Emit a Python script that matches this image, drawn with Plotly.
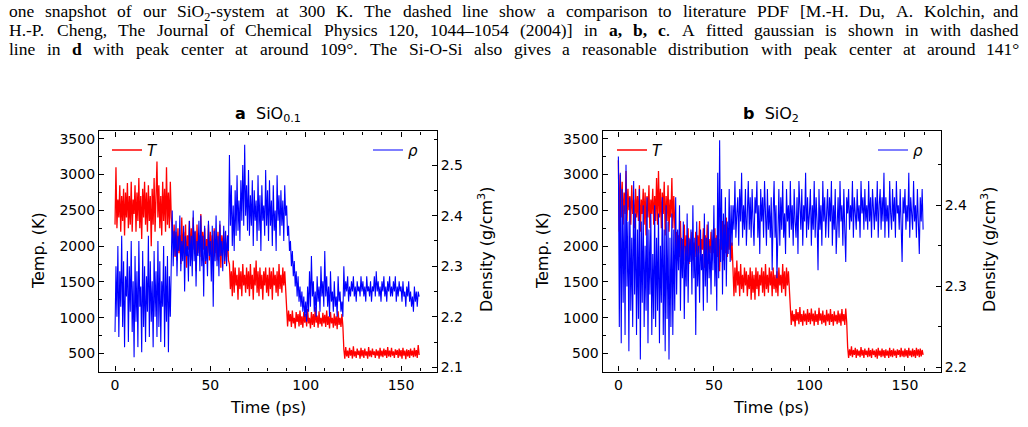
import re
import plotly.graph_objects as go

# ---------------- data ----------------
TIME_STEP_PS = 0.5

# Panel a (SiO0.1): temperature in K, 0.5 ps spacing, 20 values per 10 ps
temp_a = [
    2300, 3100, 2250, 2650, 2400, 2850, 2200, 2700, 2350, 2800, 2150, 2750, 2400, 2880, 2250, 2700, 2300, 2900, 2200, 2650,
    2450, 2850, 2200, 2750, 2350, 2950, 2250, 2700, 2100, 2800, 2400, 2900, 2300, 2750, 2200, 2850, 2350, 2700, 2000, 2800,
    2300, 2950, 2200, 2750, 3180, 2400, 2850, 2250, 2700, 2150, 2900, 2350, 2800, 2200, 3100, 2300, 2750, 2250, 2900, 2400,
    2200, 2050, 2300, 1850, 2200, 1800, 2250, 1900, 2150, 1750, 2400, 1900, 2200, 1850, 2300, 1700, 2150, 1950, 2350, 1850,
    2250, 1800, 2400, 1950, 2200, 1650, 2300, 1900, 2150, 1850, 2450, 1800, 2200, 1950, 2250, 1750, 2100, 1900, 2300, 1800,
    2200, 1850, 2150, 1750, 2250, 1900, 2100, 1800, 2200, 1850, 2300, 1700, 2150, 1950, 2200, 1750, 2050, 1850, 2150, 1800,
    1750, 1400, 1650, 1300, 1800, 1350, 1700, 1450, 1600, 1250, 1700, 1400, 1650, 1300, 1750, 1450, 1600, 1350, 1700, 1400,
    1650, 1300, 1750, 1400, 1600, 1250, 1700, 1450, 1800, 1350, 1650, 1300, 1700, 1400, 1600, 1250, 1650, 1450, 1700, 1350,
    1600, 1300, 1700, 1400, 1650, 1250, 1700, 1450, 1600, 1350, 1650, 1300, 1750, 1400, 1600, 1350, 1700, 1450, 1650, 1400,
    1150, 880, 1100, 950, 1050, 870, 1100, 920, 1000, 850, 1080, 940, 1050, 880, 1100, 900, 1020, 860, 1080, 930,
    1050, 880, 1120, 920, 1000, 850, 1080, 900, 1050, 870, 1150, 930, 1030, 860, 1090, 910, 1000, 880, 1070, 920,
    1040, 870, 1100, 900, 1020, 850, 1080, 920, 1000, 860, 1060, 890, 1020, 840, 1090, 900, 1000, 870, 1050, 880,
    560, 430, 590, 460, 540, 440, 580, 470, 550, 430, 600, 460, 530, 440, 570, 480, 540, 430, 580, 460,
    550, 440, 570, 470, 530, 430, 590, 460, 540, 450, 570, 480, 530, 440, 560, 470, 540, 430, 580, 460,
    540, 450, 570, 470, 550, 440, 590, 460, 540, 450, 580, 470, 530, 440, 560, 480, 550, 440, 570, 460,
    550, 430, 580, 470, 540, 420, 560, 460, 550, 440, 570, 470, 540, 450, 580, 460, 550, 440, 620, 480,
]

# Panel a: density in g/cm^3
dens_a = [
    2.17, 2.30, 2.20, 2.34, 2.16, 2.29, 2.22, 2.36, 2.18, 2.31, 2.14, 2.28, 2.24, 2.33, 2.15, 2.30, 2.21, 2.35, 2.17, 2.27,
    2.12, 2.32, 2.19, 2.29, 2.14, 2.35, 2.22, 2.26, 2.13, 2.33, 2.18, 2.30, 2.15, 2.28, 2.21, 2.36, 2.16, 2.31, 2.19, 2.27,
    2.14, 2.33, 2.20, 2.29, 2.16, 2.35, 2.18, 2.31, 2.15, 2.27, 2.22, 2.34, 2.14, 2.30, 2.19, 2.32, 2.13, 2.28, 2.20, 2.33,
    2.41, 2.30, 2.37, 2.32, 2.39, 2.28, 2.36, 2.33, 2.40, 2.29, 2.35, 2.31, 2.38, 2.25, 2.36, 2.32, 2.34, 2.27, 2.39, 2.30,
    2.36, 2.28, 2.41, 2.31, 2.37, 2.26, 2.35, 2.32, 2.39, 2.29, 2.40, 2.30, 2.36, 2.24, 2.38, 2.31, 2.34, 2.28, 2.39, 2.32,
    2.35, 2.27, 2.38, 2.22, 2.37, 2.31, 2.40, 2.30, 2.36, 2.28, 2.39, 2.32, 2.35, 2.29, 2.38, 2.31, 2.37, 2.30, 2.36, 2.33,
    2.52, 2.38, 2.46, 2.34, 2.42, 2.33, 2.45, 2.36, 2.48, 2.37, 2.43, 2.35, 2.47, 2.39, 2.50, 2.38, 2.54, 2.40, 2.46, 2.37,
    2.49, 2.36, 2.44, 2.38, 2.47, 2.34, 2.45, 2.39, 2.43, 2.35, 2.48, 2.37, 2.44, 2.33, 2.46, 2.39, 2.42, 2.36, 2.49, 2.38,
    2.45, 2.35, 2.47, 2.38, 2.43, 2.34, 2.46, 2.37, 2.41, 2.33, 2.48, 2.39, 2.44, 2.36, 2.45, 2.38, 2.43, 2.35, 2.46, 2.40,
    2.42, 2.36, 2.38, 2.33, 2.35, 2.30, 2.33, 2.28, 2.31, 2.26, 2.29, 2.24, 2.28, 2.23, 2.26, 2.22, 2.25, 2.21, 2.24, 2.20,
    2.23, 2.19, 2.26, 2.21, 2.29, 2.22, 2.32, 2.24, 2.27, 2.21, 2.25, 2.20, 2.28, 2.23, 2.26, 2.21, 2.30, 2.24, 2.27, 2.22,
    2.33, 2.24, 2.28, 2.22, 2.26, 2.20, 2.29, 2.23, 2.25, 2.21, 2.27, 2.22, 2.24, 2.20, 2.28, 2.23, 2.25, 2.21, 2.23, 2.20,
    2.30, 2.24, 2.27, 2.25, 2.28, 2.23, 2.26, 2.24, 2.27, 2.25, 2.28, 2.24, 2.26, 2.23, 2.27, 2.25, 2.26, 2.24, 2.28, 2.25,
    2.27, 2.24, 2.26, 2.23, 2.28, 2.25, 2.26, 2.24, 2.27, 2.23, 2.26, 2.25, 2.28, 2.24, 2.29, 2.25, 2.27, 2.24, 2.26, 2.23,
    2.27, 2.25, 2.28, 2.24, 2.26, 2.23, 2.27, 2.25, 2.28, 2.24, 2.26, 2.24, 2.27, 2.25, 2.28, 2.23, 2.26, 2.24, 2.27, 2.25,
    2.26, 2.23, 2.27, 2.24, 2.25, 2.22, 2.26, 2.24, 2.27, 2.23, 2.25, 2.22, 2.24, 2.21, 2.26, 2.23, 2.25, 2.22, 2.25, 2.24,
]

# Panel b (SiO2): temperature in K
temp_b = [
    3200, 2200, 3000, 2400, 2900, 2300, 2750, 2450, 3050, 2350, 2800, 2500, 2700, 2300, 2850, 2450, 2650, 2250, 2800, 2400,
    2700, 2350, 2850, 2200, 2650, 2450, 2800, 2300, 2750, 2150, 2700, 2400, 2850, 2250, 2650, 2450, 2800, 2300, 2700, 2350,
    2950, 2300, 3050, 2400, 2800, 2250, 2750, 2450, 2900, 2150, 2700, 2350, 2850, 2200, 2650, 2400, 2950, 2250, 2700, 2300,
    1900, 2200, 1800, 2150, 1850, 2350, 1750, 2100, 1900, 2300, 1800, 2150, 1850, 2250, 1750, 2100, 1900, 2200, 1800, 2050,
    1850, 2200, 1750, 2150, 1900, 2350, 1800, 2100, 1950, 2250, 1700, 2150, 1850, 2300, 1750, 2100, 1900, 2200, 1800, 2050,
    1900, 2250, 1750, 2150, 1850, 2100, 1650, 2200, 1950, 2350, 1800, 2300, 1900, 2400, 1850, 2200, 1950, 2300, 1800, 2050,
    1550, 1300, 1700, 1350, 1800, 1450, 1650, 1300, 1750, 1400, 1600, 1350, 1700, 1450, 1650, 1300, 1600, 1400, 1700, 1250,
    1650, 1350, 1600, 1250, 1700, 1400, 1650, 1300, 1600, 1450, 1700, 1350, 1650, 1300, 1750, 1400, 1600, 1350, 1700, 1450,
    1650, 1300, 1700, 1400, 1600, 1350, 1650, 1300, 1700, 1450, 1600, 1350, 1750, 1400, 1650, 1300, 1700, 1450, 1650, 1350,
    1150, 900, 1100, 950, 1050, 880, 1120, 960, 1080, 910, 1150, 940, 1050, 890, 1100, 950, 1060, 900, 1120, 940,
    1070, 910, 1130, 950, 1060, 890, 1100, 940, 1050, 900, 1140, 960, 1060, 910, 1100, 930, 1040, 890, 1110, 950,
    1060, 900, 1120, 940, 1050, 890, 1090, 950, 1040, 910, 1100, 930, 1060, 890, 1120, 950, 1050, 900, 1130, 940,
    590, 440, 560, 470, 600, 450, 550, 480, 580, 440, 560, 470, 540, 450, 590, 470, 550, 440, 570, 480,
    540, 450, 580, 460, 550, 440, 570, 480, 540, 450, 560, 430, 580, 470, 540, 450, 570, 460, 550, 440,
    560, 470, 540, 440, 580, 460, 550, 450, 570, 470, 540, 440, 560, 480, 550, 450, 580, 460, 540, 450,
    570, 460, 550, 440, 580, 470, 540, 450, 570, 460, 550, 440, 580, 470, 560, 450, 570, 460, 550, 480,
]

# Panel b: density in g/cm^3
dens_b = [
    2.46, 2.25, 2.44, 2.23, 2.42, 2.28, 2.40, 2.24, 2.45, 2.30, 2.38, 2.22, 2.41, 2.27, 2.36, 2.25, 2.43, 2.29, 2.39, 2.24,
    2.37, 2.26, 2.42, 2.21, 2.38, 2.28, 2.40, 2.25, 2.35, 2.27, 2.41, 2.23, 2.37, 2.29, 2.39, 2.24, 2.34, 2.26, 2.40, 2.25,
    2.36, 2.27, 2.39, 2.23, 2.35, 2.28, 2.41, 2.24, 2.37, 2.22, 2.40, 2.26, 2.38, 2.21, 2.36, 2.25, 2.39, 2.24, 2.37, 2.27,
    2.41, 2.29, 2.37, 2.32, 2.40, 2.27, 2.36, 2.31, 2.38, 2.26, 2.35, 2.30, 2.39, 2.28, 2.36, 2.33, 2.37, 2.29, 2.40, 2.31,
    2.36, 2.24, 2.38, 2.30, 2.35, 2.28, 2.37, 2.32, 2.34, 2.27, 2.39, 2.30, 2.36, 2.28, 2.38, 2.31, 2.35, 2.29, 2.37, 2.32,
    2.40, 2.30, 2.36, 2.27, 2.44, 2.31, 2.48, 2.33, 2.42, 2.29, 2.39, 2.32, 2.41, 2.30, 2.38, 2.34, 2.42, 2.33, 2.40, 2.35,
    2.40, 2.37, 2.43, 2.36, 2.39, 2.41, 2.35, 2.42, 2.38, 2.44, 2.36, 2.40, 2.37, 2.42, 2.35, 2.39, 2.43, 2.37, 2.41, 2.36,
    2.42, 2.38, 2.35, 2.41, 2.39, 2.43, 2.36, 2.40, 2.34, 2.42, 2.38, 2.41, 2.36, 2.43, 2.39, 2.35, 2.42, 2.37, 2.40, 2.36,
    2.41, 2.32, 2.39, 2.43, 2.36, 2.40, 2.31, 2.38, 2.42, 2.35, 2.41, 2.37, 2.43, 2.36, 2.39, 2.34, 2.42, 2.38, 2.40, 2.36,
    2.43, 2.37, 2.40, 2.35, 2.42, 2.38, 2.36, 2.41, 2.34, 2.43, 2.39, 2.37, 2.42, 2.35, 2.40, 2.38, 2.44, 2.36, 2.41, 2.37,
    2.39, 2.42, 2.35, 2.40, 2.37, 2.43, 2.36, 2.41, 2.38, 2.32, 2.42, 2.37, 2.40, 2.35, 2.43, 2.38, 2.41, 2.36, 2.39, 2.42,
    2.36, 2.41, 2.38, 2.43, 2.35, 2.40, 2.37, 2.42, 2.34, 2.39, 2.41, 2.36, 2.43, 2.38, 2.40, 2.35, 2.42, 2.37, 2.33, 2.41,
    2.39, 2.42, 2.37, 2.40, 2.38, 2.43, 2.36, 2.41, 2.39, 2.37, 2.42, 2.38, 2.40, 2.36, 2.43, 2.39, 2.41, 2.37, 2.42, 2.38,
    2.40, 2.37, 2.43, 2.38, 2.41, 2.36, 2.42, 2.39, 2.37, 2.41, 2.38, 2.43, 2.36, 2.40, 2.42, 2.37, 2.41, 2.38, 2.44, 2.36,
    2.41, 2.38, 2.40, 2.36, 2.43, 2.39, 2.37, 2.42, 2.38, 2.41, 2.36, 2.43, 2.39, 2.40, 2.37, 2.42, 2.38, 2.33, 2.41, 2.39,
    2.42, 2.37, 2.40, 2.38, 2.44, 2.36, 2.41, 2.39, 2.37, 2.43, 2.38, 2.40, 2.36, 2.42, 2.39, 2.34, 2.41, 2.38, 2.42, 2.37,
]

TEMP_TICKS = [500, 1000, 1500, 2000, 2500, 3000, 3500]
TIME_TICKS = [0, 50, 100, 150]
DENS_TICKS_A = [2.1, 2.2, 2.3, 2.4, 2.5]
DENS_TICKS_B = [2.2, 2.3, 2.4]

PANEL_TITLES = ["<b>a</b>  SiO<sub>0.1</sub>", "<b>b</b>  SiO<sub>2</sub>"]

CAPTION_LINES = [
    "one snapshot of our SiO<sub>2</sub>-system at 300 K. The dashed line show a comparison to "
    "literature PDF [M.-H. Du, A. Kolchin, and",
    "H.-P. Cheng, The Journal of Chemical Physics 120, 1044–1054 (2004)] in <b>a,</b> <b>b,</b> "
    "<b>c</b>. A fitted gaussian is shown in with dashed",
    "line in <b>d</b> with peak center at around 109°. The Si-O-Si also gives a reasonable "
    "distribution with peak center at around 141°",
]

# ---------------- figure ----------------
W, H = 1028, 427
RED = "#ff0000"
BLUE = "#0000ff"
SANS = "DejaVu Sans"
SERIF = "Liberation Serif"
CAP_SIZE = 17.5
CAP_LEFT, CAP_RIGHT = 8, 1020

# approximate Times / Liberation Serif advance widths (per 1000 em), used to justify the caption
TW = dict(zip("abcdefghijklmnopqrstuvwxyz",
              [444, 500, 444, 500, 444, 333, 500, 500, 278, 278, 500, 278, 778, 500, 500, 500, 500, 333, 389,
               278, 500, 500, 722, 500, 500, 444]))
TW.update(dict(zip("ABCDEFGHIJKLMNOPQRSTUVWXYZ",
                   [722, 667, 667, 722, 611, 556, 722, 722, 333, 389, 722, 611, 889, 722, 722, 556, 722, 667,
                    556, 611, 722, 722, 944, 722, 722, 611])))
TW.update({c: 500 for c in "0123456789"})
TW.update({".": 250, ",": 250, "-": 333, "[": 333, "]": 333, "(": 333, ")": 333, "–": 500, "°": 400})


def word_width(word, size):
    total = 0.0
    scale = 1.0
    bold = 1.0
    for tok in re.split(r"(<[^>]+>)", word):
        if tok.startswith("<"):
            if tok == "<sub>":
                scale = 0.7
            elif tok == "</sub>":
                scale = 1.0
            elif tok == "<b>":
                bold = 1.06
            elif tok == "</b>":
                bold = 1.0
            continue
        for ch in tok:
            total += TW.get(ch, 500) * scale * bold
    return total * size / 1000.0


def times(vals):
    return [i * TIME_STEP_PS for i in range(len(vals))]


def px(x):
    return x / W


def py(y):
    return 1 - y / H


fig = go.Figure()

fig.add_trace(go.Scatter(x=times(temp_a), y=temp_a, mode="lines", name="<i>T</i>",
                         line=dict(color=RED, width=1.3), xaxis="x", yaxis="y", legend="legend"))
fig.add_trace(go.Scatter(x=times(dens_a), y=dens_a, mode="lines", name="<i>ρ</i>",
                         line=dict(color=BLUE, width=1.1), xaxis="x", yaxis="y2", legend="legend2"))
fig.add_trace(go.Scatter(x=times(temp_b), y=temp_b, mode="lines", name="<i>T</i>",
                         line=dict(color=RED, width=1.3), xaxis="x2", yaxis="y3", legend="legend3"))
fig.add_trace(go.Scatter(x=times(dens_b), y=dens_b, mode="lines", name="<i>ρ</i>",
                         line=dict(color=BLUE, width=1.1), xaxis="x2", yaxis="y4", legend="legend4"))

plot_top, plot_bot = 132, 375
ydom = [py(plot_bot), py(plot_top)]
xa_dom = [px(99), px(436.7)]
xb_dom = [px(602.7), px(940.7)]

tickfont = dict(family=SANS, size=14, color="black")
common_axis = dict(showline=True, linecolor="black", linewidth=1.3, ticks="inside",
                   tickcolor="black", tickwidth=1, ticklen=5, showgrid=False, zeroline=False,
                   tickfont=tickfont)

x_common = dict(common_axis, tickvals=TIME_TICKS, mirror="ticks",
                minor=dict(dtick=10, tick0=0, ticks="inside", ticklen=3, tickcolor="black", showgrid=False))
yT_common = dict(common_axis, tickvals=TEMP_TICKS, mirror=True, range=[248, 3601],
                 minor=dict(dtick=250, tick0=0, ticks="inside", ticklen=3, tickcolor="black", showgrid=False))
yD_common = dict(common_axis, side="right",
                 minor=dict(dtick=0.05, tick0=2.0, ticks="inside", ticklen=3, tickcolor="black", showgrid=False))

fig.update_layout(
    width=W, height=H,
    margin=dict(l=0, r=0, t=0, b=0),
    paper_bgcolor="white", plot_bgcolor="white",
    xaxis=dict(x_common, domain=xa_dom, range=[-8.4, 168.7], anchor="y"),
    yaxis=dict(yT_common, domain=ydom, anchor="x"),
    yaxis2=dict(yD_common, overlaying="y", anchor="x", range=[2.0916, 2.5664],
                tickvals=DENS_TICKS_A, ticktext=[f"{v:.1f}" for v in DENS_TICKS_A]),
    xaxis2=dict(x_common, domain=xb_dom, range=[-8.2, 168.7], anchor="y3"),
    yaxis3=dict(yT_common, domain=ydom, anchor="x2"),
    yaxis4=dict(yD_common, overlaying="y3", anchor="x2", range=[2.195, 2.491],
                tickvals=DENS_TICKS_B, ticktext=[f"{v:.1f}" for v in DENS_TICKS_B]),
    showlegend=True,
)

leg_common = dict(bgcolor="rgba(0,0,0,0)", borderwidth=0, xanchor="left", yanchor="middle",
                  font=dict(family=SANS, size=15, color="black"), itemwidth=30)
leg_y = py(151)
fig.update_layout(
    legend=dict(leg_common, x=px(107), y=leg_y),
    legend2=dict(leg_common, x=px(368), y=leg_y),
    legend3=dict(leg_common, x=px(612), y=leg_y),
    legend4=dict(leg_common, x=px(873), y=leg_y),
)

ann = []
for title, cx in zip(PANEL_TITLES, [268, 771]):
    ann.append(dict(text=title, x=px(cx), y=py(115), xref="paper", yref="paper",
                    xanchor="center", yanchor="middle", showarrow=False,
                    font=dict(family=SANS, size=16, color="black")))
for cx in [268, 771]:
    ann.append(dict(text="Time (ps)", x=px(cx), y=py(411), xref="paper", yref="paper",
                    xanchor="center", yanchor="middle", showarrow=False,
                    font=dict(family=SANS, size=16, color="black")))
for cx in [38, 542]:
    ann.append(dict(text="Temp. (K)", x=px(cx), y=py(253), xref="paper", yref="paper",
                    xanchor="center", yanchor="middle", showarrow=False, textangle=-90,
                    font=dict(family=SANS, size=16, color="black")))
for cx in [485, 988]:
    ann.append(dict(text="Density (g/cm<sup>3</sup>)", x=px(cx), y=py(252), xref="paper", yref="paper",
                    xanchor="center", yanchor="middle", showarrow=False, textangle=-90,
                    font=dict(family=SANS, size=16, color="black")))

# justified caption: one annotation per word, spaces stretched so each line spans the page.
# Words are anchored at their top edge so that subscripts do not shift the baseline.
for line, cy in zip(CAPTION_LINES, [10, 30, 49]):
    words = line.split(" ")
    widths = [word_width(w, CAP_SIZE) for w in words]
    gap = (CAP_RIGHT - CAP_LEFT - sum(widths)) / (len(words) - 1)
    xpos = CAP_LEFT
    top = cy - 0.65 * CAP_SIZE
    for i, (w, wd) in enumerate(zip(words, widths)):
        last = i == len(words) - 1
        ann.append(dict(text=w, x=px(CAP_RIGHT if last else xpos), y=py(top), xref="paper", yref="paper",
                        xanchor="right" if last else "left", yanchor="top", showarrow=False,
                        borderpad=0, font=dict(family=SERIF, size=CAP_SIZE, color="black")))
        xpos += wd + gap

fig.update_layout(annotations=ann)

fig.write_html("out.html")
